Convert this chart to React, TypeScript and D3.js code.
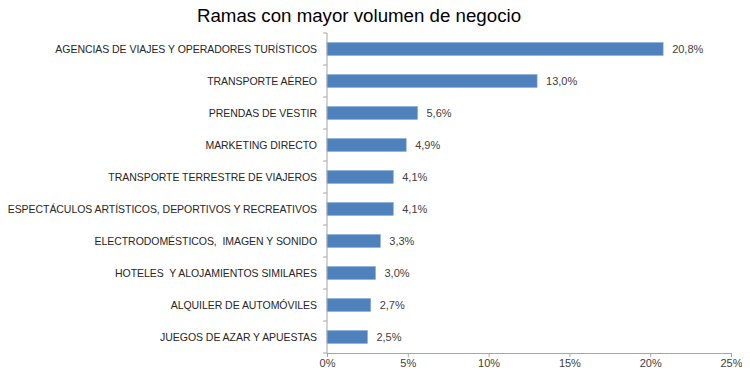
import React, { useEffect, useRef } from 'react';
import * as d3 from 'd3';

const categories = [
  'AGENCIAS DE VIAJES Y OPERADORES TURÍSTICOS',
  'TRANSPORTE AÉREO',
  'PRENDAS DE VESTIR',
  'MARKETING DIRECTO',
  'TRANSPORTE TERRESTRE DE VIAJEROS',
  'ESPECTÁCULOS ARTÍSTICOS, DEPORTIVOS Y RECREATIVOS',
  'ELECTRODOMÉSTICOS,  IMAGEN Y SONIDO',
  'HOTELES  Y ALOJAMIENTOS SIMILARES',
  'ALQUILER DE AUTOMÓVILES',
  'JUEGOS DE AZAR Y APUESTAS',
];
const values = [20.8, 13.0, 5.6, 4.9, 4.1, 4.1, 3.3, 3.0, 2.7, 2.5];
const xTicks = [0, 5, 10, 15, 20, 25];
const title = 'Ramas con mayor volumen de negocio';

const W = 750;
const H = 375;
const margin = { top: 33, right: 19, bottom: 22, left: 327 };

const fmt = (v: number) => v.toFixed(1).replace('.', ',') + '%';

export default function App() {
  const ref = useRef<SVGSVGElement>(null);

  useEffect(() => {
    const svg = d3.select(ref.current);
    svg.selectAll('*').remove();
    const font = 'Liberation Sans, Arial, sans-serif';

    const x = d3.scaleLinear().domain([0, 25]).range([margin.left, W - margin.right]);
    const y = d3
      .scaleBand<string>()
      .domain(categories)
      .range([margin.top, H - margin.bottom])
      .paddingInner(0.6)
      .paddingOuter(0.3);

    svg
      .append('text')
      .attr('x', 359)
      .attr('y', 22)
      .attr('text-anchor', 'middle')
      .attr('font-family', font)
      .attr('font-size', 18.7)
      .attr('fill', '#000')
      .text(title);

    // bars
    svg
      .append('g')
      .selectAll('rect')
      .data(values)
      .enter()
      .append('rect')
      .attr('x', x(0))
      .attr('y', (d, i) => y(categories[i])!)
      .attr('width', (d) => x(d) - x(0))
      .attr('height', y.bandwidth())
      .attr('fill', '#4f81bd')
      .attr('stroke', '#7fa6d6')
      .attr('stroke-width', 0.6);

    // value labels
    svg
      .append('g')
      .selectAll('text')
      .data(values)
      .enter()
      .append('text')
      .attr('x', (d) => x(d) + 9)
      .attr('y', (d, i) => y(categories[i])! + y.bandwidth() / 2)
      .attr('dy', '0.35em')
      .attr('font-family', font)
      .attr('font-size', 11)
      .attr('fill', '#404040')
      .text((d) => fmt(d));

    // category labels (keep the double spaces of the original)
    svg
      .append('g')
      .selectAll('text')
      .data(categories)
      .enter()
      .append('text')
      .attr('x', margin.left - 10)
      .attr('y', (d) => y(d)! + y.bandwidth() / 2)
      .attr('dy', '0.35em')
      .attr('text-anchor', 'end')
      .attr('font-family', font)
      .attr('font-size', 10.5)
      .attr('letter-spacing', -0.05)
      .style('white-space', 'pre')
      .attr('fill', '#262626')
      .text((d) => d);

    const axisColor = '#a6a6a6';
    const step = y.step();

    // y axis line + ticks at band boundaries
    const gy = svg.append('g');
    gy.append('line')
      .attr('x1', x(0))
      .attr('x2', x(0))
      .attr('y1', margin.top)
      .attr('y2', H - margin.bottom)
      .attr('stroke', axisColor);
    gy.selectAll('line.t')
      .data(d3.range(categories.length + 1))
      .enter()
      .append('line')
      .attr('class', 't')
      .attr('x1', x(0) - 4)
      .attr('x2', x(0))
      .attr('y1', (i) => margin.top + i * step)
      .attr('y2', (i) => margin.top + i * step)
      .attr('stroke', axisColor);

    // x axis
    const gx = svg
      .append('g')
      .attr('transform', `translate(0,${H - margin.bottom})`)
      .call(
        d3
          .axisBottom(x)
          .tickValues(xTicks)
          .tickSize(4)
          .tickFormat((d) => d + '%')
      );
    gx.select('.domain').attr('stroke', axisColor);
    gx.selectAll('.tick line').attr('stroke', axisColor);
    gx.selectAll('.tick text')
      .attr('font-family', font)
      .attr('font-size', 11)
      .attr('fill', '#404040')
      .attr('dy', '0.6em');
  }, []);

  return <svg ref={ref} width={W} height={H} style={{ display: 'block', margin: '-8px' }} />;
}
